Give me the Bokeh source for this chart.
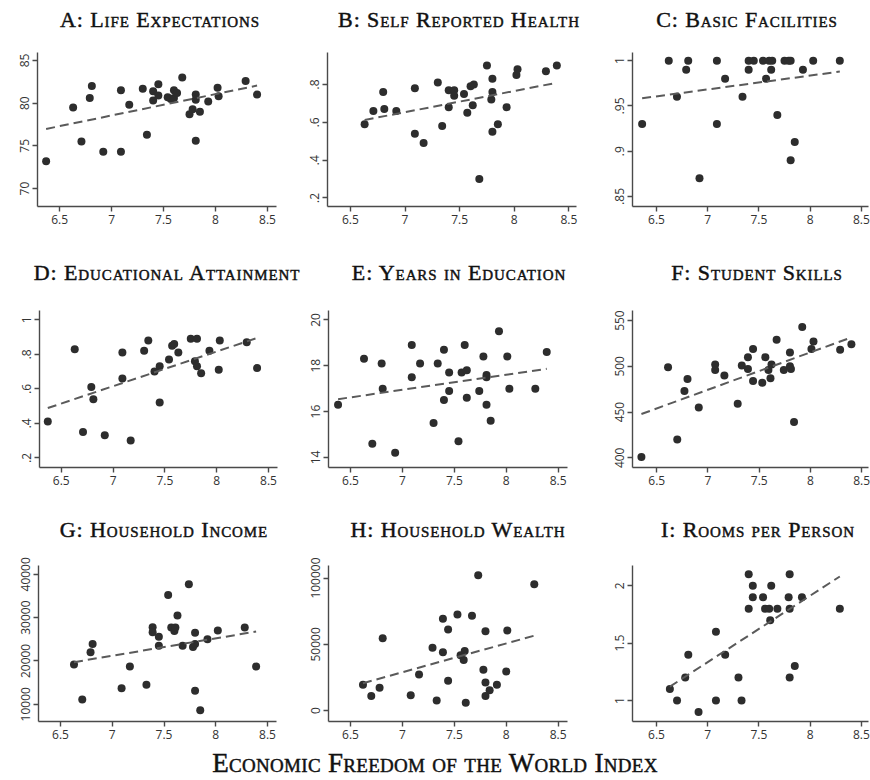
import numpy as np
from bokeh.plotting import figure
from bokeh.layouts import column, row
from bokeh.models import Div, Range1d, FixedTicker
from bokeh.embed import file_html
from bokeh.resources import INLINE

# ---------------------------------------------------------------------------
# Data: Economic Freedom of the World index (x) against nine well-being measures
# ---------------------------------------------------------------------------
efw_life = [6.37, 6.63, 6.71, 6.79, 6.81, 6.92, 7.09, 7.09, 7.17, 7.30, 7.34,
            7.40, 7.40, 7.45, 7.45, 7.54, 7.57, 7.60, 7.60, 7.63, 7.68, 7.75,
            7.78, 7.81, 7.81, 7.81, 7.85, 7.93, 8.02, 8.03, 8.29, 8.40]
life_expectancy = [73.2, 79.5, 75.5, 80.6, 82.0, 74.3, 81.5, 74.3, 79.8, 81.7, 76.3,
                   81.4, 80.3, 82.2, 80.9, 80.7, 80.5, 81.5, 80.6, 81.2, 83.0, 78.7,
                   79.3, 81.0, 80.4, 75.6, 79.0, 80.2, 81.8, 80.8, 82.6, 81.0]

efw_health = [6.63, 6.71, 6.80, 6.81, 6.92, 7.09, 7.09, 7.17, 7.30, 7.34, 7.40,
              7.40, 7.45, 7.45, 7.54, 7.57, 7.60, 7.63, 7.62, 7.68, 7.75, 7.79,
              7.80, 7.80, 7.80, 7.85, 7.93, 8.02, 8.03, 8.29, 8.39]
self_reported_health = [0.59, 0.66, 0.76, 0.67, 0.66, 0.78, 0.54, 0.49, 0.81, 0.58, 0.77,
                        0.68, 0.77, 0.74, 0.75, 0.65, 0.79, 0.80, 0.69, 0.30, 0.90, 0.72,
                        0.83, 0.76, 0.55, 0.59, 0.68, 0.85, 0.88, 0.87, 0.90]

efw_facilities = [6.36, 6.62, 6.70, 6.79, 6.81, 6.92, 7.09, 7.09, 7.17, 7.34, 7.40,
                  7.40, 7.45, 7.54, 7.57, 7.60, 7.62, 7.63, 7.68, 7.75, 7.79, 7.81,
                  7.81, 7.85, 7.93, 8.03, 8.29]
basic_facilities = [0.93, 1.00, 0.96, 0.99, 1.00, 0.87, 1.00, 0.93, 0.98, 0.96, 1.00,
                    0.99, 1.00, 1.00, 0.98, 1.00, 0.99, 1.00, 0.94, 1.00, 1.00, 1.00,
                    0.89, 0.91, 0.99, 1.00, 1.00]

efw_attain = [6.37, 6.63, 6.71, 6.79, 6.81, 6.92, 7.09, 7.09, 7.17, 7.30, 7.34,
              7.40, 7.45, 7.45, 7.54, 7.57, 7.59, 7.63, 7.75, 7.81, 7.79, 7.81,
              7.85, 7.93, 8.02, 8.03, 8.29, 8.39]
educational_attainment = [0.41, 0.83, 0.35, 0.61, 0.54, 0.33, 0.81, 0.66, 0.30, 0.82, 0.88,
                          0.70, 0.73, 0.52, 0.77, 0.85, 0.86, 0.81, 0.89, 0.89, 0.76, 0.73,
                          0.69, 0.82, 0.71, 0.88, 0.87, 0.72]

efw_years = [6.38, 6.63, 6.71, 6.80, 6.81, 6.93, 7.09, 7.09, 7.17, 7.30, 7.34,
             7.40, 7.40, 7.45, 7.45, 7.54, 7.57, 7.60, 7.62, 7.62, 7.74, 7.78,
             7.81, 7.81, 7.81, 7.85, 7.93, 8.01, 8.03, 8.28, 8.39]
years_in_education = [16.3, 18.3, 14.6, 18.1, 17.0, 14.2, 18.9, 17.5, 18.1, 15.5, 18.1,
                      18.7, 16.5, 17.7, 16.9, 14.7, 17.7, 18.9, 17.8, 16.6, 16.9, 18.4,
                      17.6, 17.5, 16.3, 15.6, 19.5, 18.4, 17.0, 17.0, 18.6]

efw_skills = [6.35, 6.61, 6.70, 6.77, 6.80, 6.91, 7.07, 7.07, 7.16, 7.29, 7.33,
              7.39, 7.39, 7.44, 7.44, 7.53, 7.56, 7.59, 7.62, 7.61, 7.67, 7.74,
              7.80, 7.80, 7.81, 7.84, 7.92, 8.01, 8.03, 8.29, 8.40]
student_skills = [401, 499, 420, 473, 486, 455, 502, 496, 490, 459, 501,
                  510, 497, 519, 484, 482, 510, 496, 502, 487, 529, 496,
                  515, 500, 497, 439, 543, 519, 527, 518, 524]

efw_income = [6.63, 6.71, 6.79, 6.81, 7.09, 7.17, 7.33, 7.39, 7.39, 7.45, 7.45,
              7.54, 7.57, 7.60, 7.61, 7.63, 7.68, 7.74, 7.78, 7.80, 7.80, 7.80,
              7.85, 7.92, 8.02, 8.28, 8.39]
household_income = [19200, 11100, 22000, 23900, 13700, 18700, 14500, 27800, 26600, 25600, 23500,
                    35200, 27700, 26900, 27700, 30500, 23500, 37700, 23200, 26500, 23900, 13100,
                    8600, 25000, 27000, 27700, 18700]

efw_wealth = [6.62, 6.70, 6.78, 6.81, 7.08, 7.16, 7.29, 7.33, 7.39, 7.39, 7.44,
              7.44, 7.53, 7.56, 7.59, 7.60, 7.61, 7.67, 7.73, 7.78, 7.80, 7.80,
              7.80, 7.84, 7.91, 8.00, 8.01, 8.27]
household_wealth = [19600, 11100, 17300, 54500, 11600, 27200, 47500, 7700, 69300, 44100, 61100,
                    22500, 72500, 41800, 38100, 45000, 5900, 71500, 102000, 30900, 59900, 21300,
                    11100, 15300, 19600, 29500, 60400, 95300]

efw_rooms = [6.63, 6.70, 6.78, 6.81, 6.91, 7.08, 7.08, 7.17, 7.30, 7.33, 7.40,
             7.40, 7.44, 7.44, 7.54, 7.56, 7.60, 7.62, 7.61, 7.68, 7.79, 7.80,
             7.80, 7.80, 7.85, 7.92, 8.29]
rooms_per_person = [1.1, 1.0, 1.2, 1.4, 0.9, 1.6, 1.0, 1.4, 1.2, 1.0, 2.1,
                    1.8, 2.0, 1.9, 1.9, 1.8, 1.8, 2.0, 1.7, 1.8, 1.9, 2.1,
                    1.8, 1.2, 1.3, 1.9, 1.8]

# Tick positions and their printed labels
efw_ticks = [6.5, 7, 7.5, 8, 8.5]
efw_tick_labels = ["6.5", "7", "7.5", "8", "8.5"]
life_ticks, life_tick_labels = [70, 75, 80, 85], ["70", "75", "80", "85"]
health_ticks, health_tick_labels = [0.2, 0.4, 0.6, 0.8], [".2", ".4", ".6", ".8"]
facility_ticks, facility_tick_labels = [0.85, 0.9, 0.95, 1], [".85", ".9", ".95", "1"]
attain_ticks, attain_tick_labels = [0.2, 0.4, 0.6, 0.8, 1], [".2", ".4", ".6", ".8", "1"]
years_ticks, years_tick_labels = [14, 16, 18, 20], ["14", "16", "18", "20"]
skills_ticks, skills_tick_labels = [400, 450, 500, 550], ["400", "450", "500", "550"]
income_ticks = [10000, 20000, 30000, 40000]
income_tick_labels = ["10000", "20000", "30000", "40000"]
wealth_ticks, wealth_tick_labels = [0, 50000, 100000], ["0", "50000", "100000"]
rooms_ticks, rooms_tick_labels = [1, 1.5, 2], ["1", "1.5", "2"]

panel_titles = ["A: Life Expectations", "B: Self Reported Health", "C: Basic Facilities",
                "D: Educational Attainment", "E: Years in Education", "F: Student Skills",
                "G: Household Income", "H: Household Wealth", "I: Rooms per Person"]
x_title = "Economic Freedom of the World Index"

# ---------------------------------------------------------------------------
# Panel layout: (y ticks, labels, x range, y range, borders l/r/t/b)
# ---------------------------------------------------------------------------
COL_W = 290
ROW_H = [217, 215, 200]
TITLE_H = [38, 40, 40]
BOTTOM_H = 30

panels = [
    (efw_life, life_expectancy, life_ticks, life_tick_labels,
     (6.287, 8.587), (67.9, 85.93), (37, 14, 14, 48)),
    (efw_health, self_reported_health, health_ticks, health_tick_labels,
     (6.29, 8.57), (0.155, 0.969), (37, 4, 9, 49)),
    (efw_facilities, basic_facilities, facility_ticks, facility_tick_labels,
     (6.266, 8.57), (0.8388, 1.009), (52, 2, 14, 47)),
    (efw_attain, educational_attainment, attain_ticks, attain_tick_labels,
     (6.29, 8.587), (0.1436, 1.054), (39, 13, 15, 43)),
    (efw_years, years_in_education, years_ticks, years_tick_labels,
     (6.288, 8.59), (13.56, 20.41), (38, 13, 15, 43)),
    (efw_skills, student_skills, skills_ticks, skills_tick_labels,
     (6.263, 8.567), (389.4, 561.0), (52, 2, 15, 43)),
    (efw_income, household_income, income_ticks, income_tick_labels,
     (6.287, 8.587), (6012, 42039), (38, 14, 15, 27)),
    (efw_wealth, household_wealth, wealth_ticks, wealth_tick_labels,
     (6.288, 8.59), (-8172, 109435), (38, 13, 15, 27)),
    (efw_rooms, rooms_per_person, rooms_ticks, rooms_tick_labels,
     (6.265, 8.57), (0.817, 2.177), (52, 2, 15, 29)),
]

# Horizontal centre of each panel title (px from the left of the page)
title_centres = [160, 459, 747, 167, 459, 757, 164, 458, 758]
title_mid = [20, 18, 20]

AXIS_COLOR = "#4a4a4a"
DOT_COLOR = "#2d2d2d"
FIT_COLOR = "#5a5a5a"
TICK_FONT = "Open Sans"
SERIF = "'Liberation Serif', 'DejaVu Serif', serif"
HEADING_STYLE = (f"font-family:{SERIF}; font-variant:small-caps; color:#111111; "
                 "-webkit-text-stroke:0.45px #111111; white-space:nowrap;")


def make_panel(idx):
    xs, ys, yt, ytl, xr, yr, (bl, br, bt, bb) = panels[idx]
    p = figure(width=COL_W, height=ROW_H[idx // 3],
               x_range=Range1d(*xr), y_range=Range1d(*yr),
               output_backend="svg", toolbar_location=None,
               min_border_left=bl, min_border_right=br,
               min_border_top=bt, min_border_bottom=bb,
               background_fill_color="white", border_fill_color="white",
               outline_line_color=None)
    p.grid.visible = False

    p.xaxis.ticker = FixedTicker(ticks=efw_ticks)
    p.xaxis.major_label_overrides = dict(zip(efw_ticks, efw_tick_labels))
    p.yaxis.ticker = FixedTicker(ticks=yt)
    p.yaxis.major_label_overrides = dict(zip(yt, ytl))
    p.yaxis.major_label_orientation = "vertical"

    for ax in (p.xaxis[0], p.yaxis[0]):
        ax.axis_line_color = AXIS_COLOR
        ax.axis_line_width = 1.4
        ax.major_tick_line_color = AXIS_COLOR
        ax.major_tick_line_width = 1.4
        ax.major_tick_out = 5
        ax.major_tick_in = 0
        ax.minor_tick_line_color = None
        ax.major_label_text_font = TICK_FONT
        ax.major_label_text_font_size = "12px"
        ax.major_label_text_color = "#333333"
        ax.major_label_standoff = 3

    p.scatter(x=xs, y=ys, size=8, fill_color=DOT_COLOR, line_color=None)

    # least-squares trend line across the observed range
    slope, intercept = np.polyfit(xs, ys, 1)
    lx = [min(xs), max(xs)]
    p.line(x=lx, y=[intercept + slope * v for v in lx],
           line_color=FIT_COLOR, line_width=2, line_dash="9 5")
    return p


def title_row(r):
    spans = []
    for k in range(3):
        i = r * 3 + k
        spans.append(
            f"<span style=\"position:absolute; left:{title_centres[i]}px; "
            f"top:{title_mid[r] - 15}px; transform:translateX(-50%); "
            f"line-height:30px; height:30px; font-size:22px; letter-spacing:0.9px; "
            f"{HEADING_STYLE}\">{panel_titles[i]}</span>")
    html = (f"<div style=\"position:relative; width:870px; height:{TITLE_H[r]}px;\">"
            + "".join(spans) + "</div>")
    return Div(text=html, width=870, height=TITLE_H[r], margin=0)


rows = []
for r in range(3):
    rows.append(title_row(r))
    rows.append(row(*[make_panel(r * 3 + k) for k in range(3)], spacing=0))

bottom_html = (
    f"<div style=\"position:relative; width:870px; height:{BOTTOM_H}px;\">"
    f"<span style=\"position:absolute; left:435px; top:-2px; transform:translateX(-50%); "
    f"line-height:30px; height:30px; font-size:27px; letter-spacing:0.3px; "
    f"{HEADING_STYLE}\">{x_title}</span></div>")
rows.append(Div(text=bottom_html, width=870, height=BOTTOM_H, margin=0))

layout = column(*rows, spacing=0)

open("out.html", "w").write(file_html(layout, INLINE))
